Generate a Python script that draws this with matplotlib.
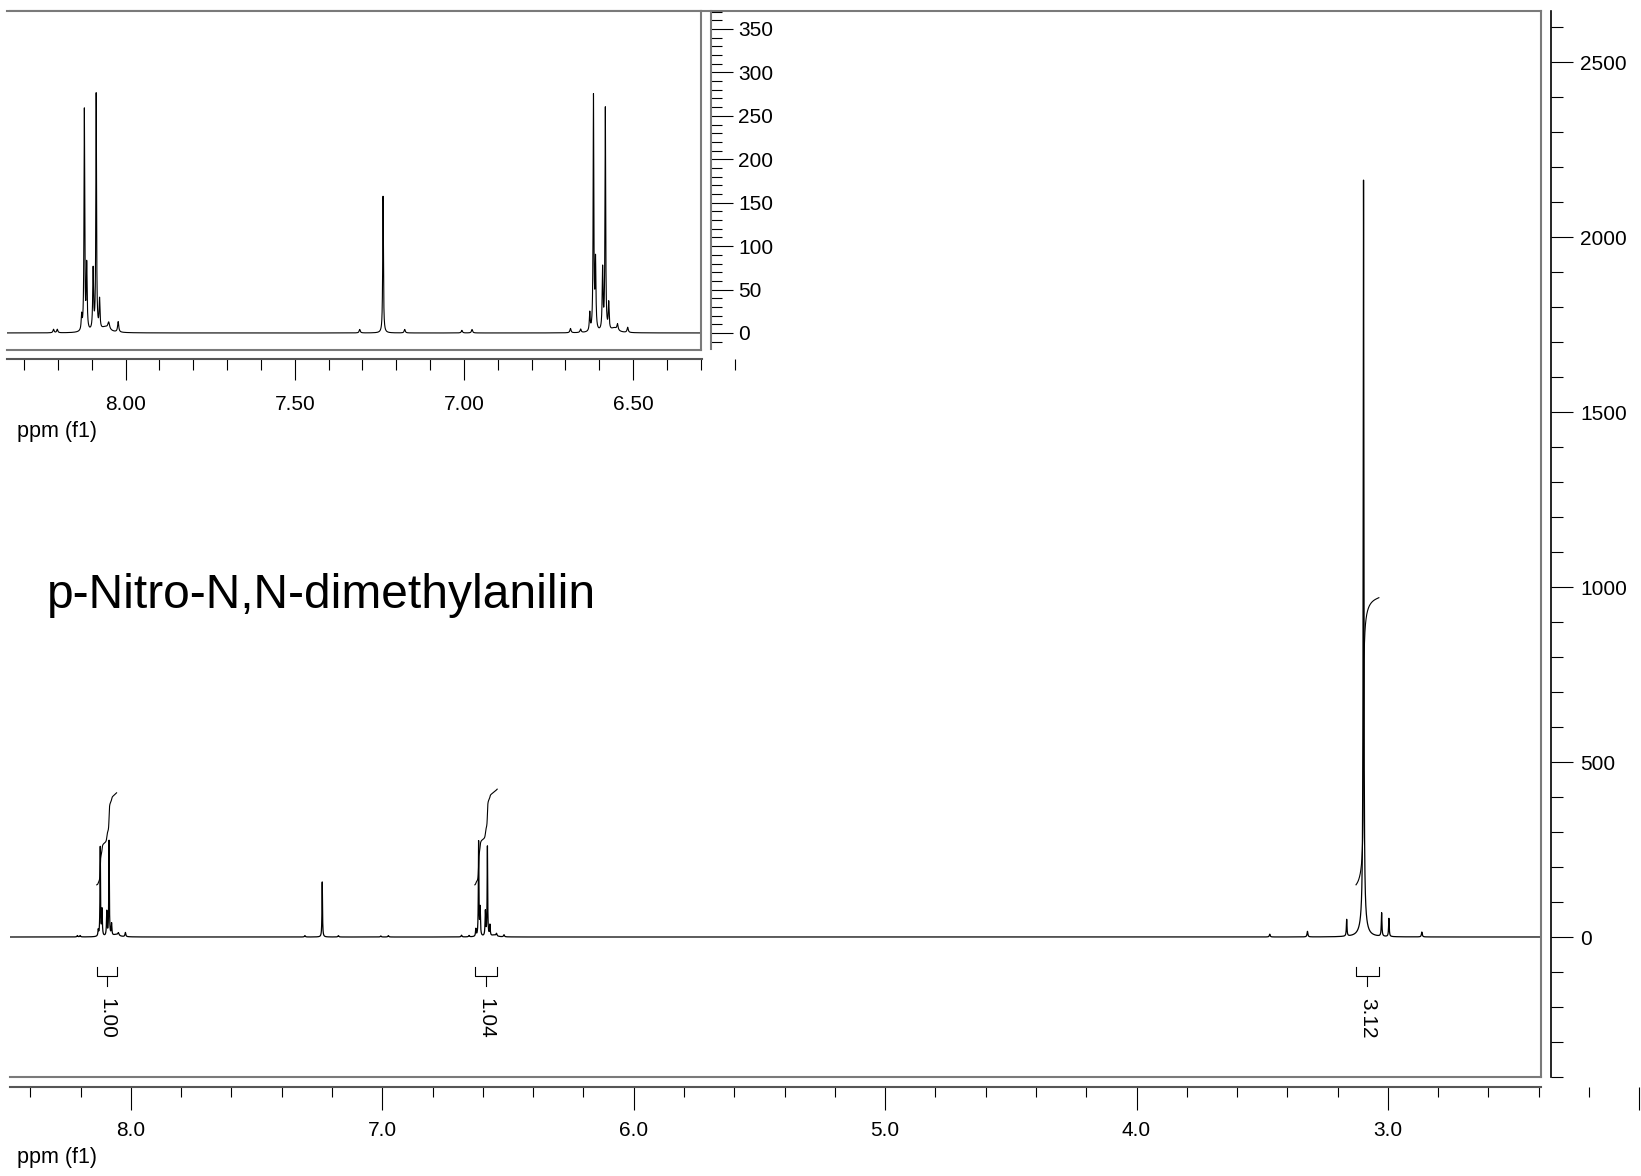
import numpy as np
import matplotlib.pyplot as plt
from matplotlib.ticker import MultipleLocator, FixedLocator, FuncFormatter

plt.rcParams['font.family'] = ['Liberation Sans', 'DejaVu Sans']

# peak list: shift (ppm), height, half width (ppm)
peak_ppm = [8.213, 8.202, 8.130, 8.122, 8.115, 8.096, 8.087, 8.077, 8.060, 8.050, 8.022,
            7.308, 7.239, 7.175, 7.006, 6.976, 6.685, 6.655,
            6.628, 6.617, 6.611, 6.590, 6.582, 6.572, 6.555, 6.546, 6.516,
            3.470, 3.320, 3.164, 3.097, 3.097, 3.025, 2.996, 2.865]
peak_height = [4, 4, 17, 255, 75, 70, 272, 34, 6, 8, 12,
               4, 158, 4, 3, 4, 5, 4,
               21, 270, 79, 71, 257, 31, 5, 7, 6,
               8, 16, 48, 2110, 55, 67, 52, 14]
peak_width = [0.002, 0.002, 0.0015, 0.0012, 0.0015, 0.0015, 0.0012, 0.0015, 0.015, 0.003, 0.002,
              0.002, 0.0012, 0.002, 0.002, 0.002, 0.002, 0.002,
              0.0015, 0.0012, 0.0015, 0.0015, 0.0012, 0.0015, 0.012, 0.002, 0.002,
              0.002, 0.002, 0.0015, 0.0015, 0.012, 0.0015, 0.0015, 0.002]

integral_start = [8.136, 6.632, 3.127]
integral_end = [8.057, 6.543, 3.036]
integral_value = [1.00, 1.04, 3.12]

title = 'p-Nitro-N,N-dimethylanilin'

ppm = np.linspace(8.49, 1.99, 40001)
spec = np.zeros_like(ppm)
for p, h, w in zip(peak_ppm, peak_height, peak_width):
    spec += h * w ** 2 / (w ** 2 + (ppm - p) ** 2)

W, H = 1641, 1176


def box(x0, y0, x1, y1):
    return [x0 / W, 1 - y1 / H, (x1 - x0) / W, (y1 - y0) / H]


frame_col = '#7a7a7a'
fs = 15

fig = plt.figure(figsize=(W / 100, H / 100), dpi=100)

# main spectrum
ax = fig.add_axes(box(10, 11, 1541, 1077))
ax.plot(ppm, spec, color='k', lw=0.9)
ax.set_xlim(8.481, 2.391)
ax.set_ylim(-400, 2646)
ax.set_xticks([])
ax.set_yticks([])
ax.spines['left'].set_visible(False)
for s in ['top', 'right', 'bottom']:
    ax.spines[s].set_color(frame_col)
    ax.spines[s].set_linewidth(1.5)

# integral curves + brackets
base = 149
unit = 263
for s, e, v in zip(integral_start, integral_end, integral_value):
    m = (ppm <= s) & (ppm >= e)
    c = np.cumsum(spec[m])
    c = base + v * unit * c / c[-1]
    ax.plot(ppm[m], c, color='k', lw=0.8)
    mid = (s + e) / 2
    ax.plot([s, s, e, e], [-86, -111, -111, -86], color='k', lw=0.8, clip_on=False)
    ax.plot([mid, mid], [-111, -140], color='k', lw=0.8, clip_on=False)
    ax.text(mid, -174, f'{v:.2f}', rotation=270, ha='center', va='top', fontsize=fs)

fig.text(47 / W, 1 - 608 / H, title, fontsize=34.5, va='baseline', ha='left')

# main x axis
axx = fig.add_axes(box(10, 1080, 1641, 1087))
axx.patch.set_visible(False)
axx.set_xlim(8.481, 8.481 - 1631 / 251.4)
axx.set_ylim(0, 1)
axx.set_yticks([])
for s in ['top', 'left', 'right']:
    axx.spines[s].set_visible(False)
axx.spines['bottom'].set_bounds(8.481, 2.391)
axx.spines['bottom'].set_color('#555555')
axx.spines['bottom'].set_linewidth(1.5)
axx.xaxis.set_major_locator(FixedLocator([8, 7, 6, 5, 4, 3, 2]))
axx.xaxis.set_minor_locator(MultipleLocator(0.2))
axx.xaxis.set_major_formatter(FuncFormatter(lambda v, _: '' if v < 2.5 else f'{v:.1f}'))
axx.tick_params(axis='x', which='major', length=16.5, width=0.8, pad=8, labelsize=fs)
axx.tick_params(axis='x', which='minor', length=7.5, width=0.8)
fig.text(17 / W, 1 - 1157 / H, 'ppm (f1)', fontsize=15.5, va='center', ha='left')

# main y axis
axy = fig.add_axes(box(1545, 11, 1551, 1077))
axy.patch.set_visible(False)
axy.set_ylim(-400, 2646)
axy.set_xticks([])
for s in ['top', 'left', 'bottom']:
    axy.spines[s].set_visible(False)
axy.spines['right'].set_color('k')
axy.spines['right'].set_linewidth(1.2)
axy.yaxis.tick_right()
axy.yaxis.set_major_locator(MultipleLocator(500))
axy.yaxis.set_minor_locator(MultipleLocator(100))
axy.tick_params(axis='y', which='major', length=15.8, width=0.8, pad=5, labelsize=fs)
axy.tick_params(axis='y', which='minor', length=8.6, width=0.8)

# inset
axi = fig.add_axes(box(7, 11, 701, 350))
axi.plot(ppm, spec, color='k', lw=0.8)
axi.set_xlim(8.3506, 8.3506 - 694 / 338.3)
axi.set_ylim(-19.6, 370.7)
axi.set_xticks([])
axi.set_yticks([])
axi.spines['left'].set_visible(False)
for s in ['top', 'right', 'bottom']:
    axi.spines[s].set_color(frame_col)
    axi.spines[s].set_linewidth(1.5)

axix = fig.add_axes(box(7, 352, 750, 359))
axix.patch.set_visible(False)
axix.set_xlim(8.3506, 8.3506 - 743 / 338.3)
axix.set_ylim(0, 1)
axix.set_yticks([])
for s in ['top', 'left', 'right']:
    axix.spines[s].set_visible(False)
axix.spines['bottom'].set_bounds(8.3506, 6.2973)
axix.spines['bottom'].set_color('#555555')
axix.spines['bottom'].set_linewidth(1.5)
axix.xaxis.set_major_locator(FixedLocator([8.0, 7.5, 7.0, 6.5]))
axix.xaxis.set_minor_locator(MultipleLocator(0.1))
axix.xaxis.set_major_formatter(FuncFormatter(lambda v, _: f'{v:.2f}'))
axix.tick_params(axis='x', which='major', length=15, width=0.8, pad=11, labelsize=fs)
axix.tick_params(axis='x', which='minor', length=8, width=0.8)
fig.text(17 / W, 1 - 432 / H, 'ppm (f1)', fontsize=15.5, va='center', ha='left')

axiy = fig.add_axes(box(705, 11, 711, 349))
axiy.patch.set_visible(False)
axiy.set_ylim((333 - 349) / 0.8686, 370.7)
axiy.set_xticks([])
for s in ['top', 'left', 'bottom']:
    axiy.spines[s].set_visible(False)
axiy.spines['right'].set_color(frame_col)
axiy.spines['right'].set_linewidth(1.5)
axiy.yaxis.tick_right()
axiy.yaxis.set_major_locator(MultipleLocator(50))
axiy.yaxis.set_minor_locator(MultipleLocator(10))
axiy.tick_params(axis='y', which='major', length=15.6, width=0.8, pad=4, labelsize=fs)
axiy.tick_params(axis='y', which='minor', length=7.7, width=0.8)

fig.savefig('out.png', dpi=100)
